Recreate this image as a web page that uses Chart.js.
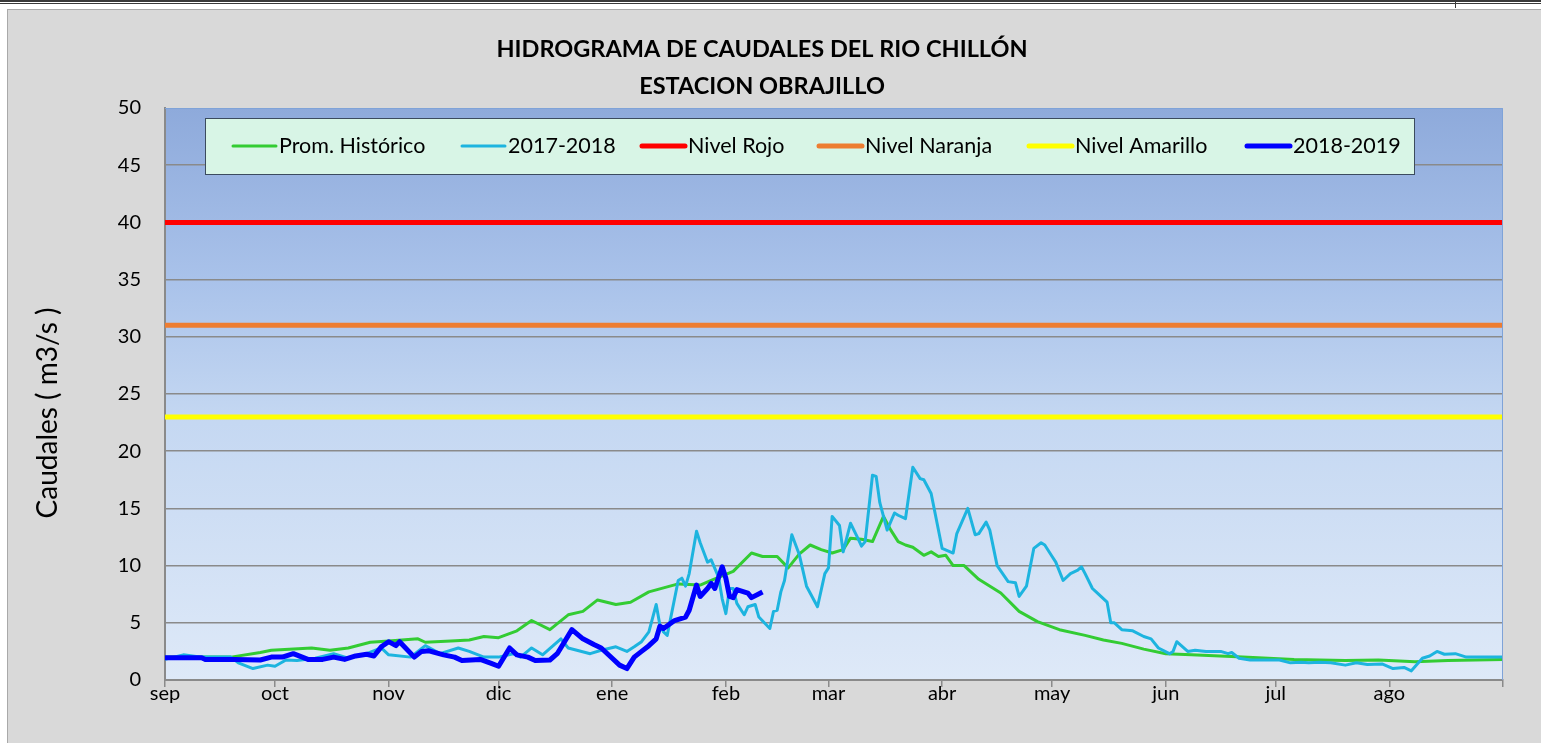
<!DOCTYPE html>
<html>
<head>
<meta charset="utf-8">
<script src="https://cdn.jsdelivr.net/npm/chart.js@4.4.1/dist/chart.umd.min.js"></script>
<style>
  html, body { margin: 0; padding: 0; background: #fff; width: 1541px; height: 743px; overflow: hidden; }
  #topline { position: absolute; left: 0; top: 0; width: 1541px; height: 1px; border-top: 2px solid #3a3a3a; border-bottom: 1px solid #3a3a3a; }
  #mark { position: absolute; left: 1455px; top: 0; width: 1px; height: 8px; background: #3a3a3a; }
  #frame { position: absolute; left: 7px; top: 9px; width: 1560px; height: 760px; background: #d9d9d9; border: 1px solid #a9a9a9; }
  #chart { position: absolute; left: 0; top: 0; }
</style>
</head>
<body>
<div id="topline"></div>
<div id="mark"></div>
<div id="frame"></div>
<canvas id="chart" width="1541" height="743"></canvas>
<script>
// Hydrological year, day 0 = 1 sep. Values in m3/s.
const monthLabels = ['sep', 'oct', 'nov', 'dic', 'ene', 'feb', 'mar', 'abr', 'may', 'jun', 'jul', 'ago'];
const monthStartDays = [0, 30, 61, 91, 122, 153, 181, 212, 242, 273, 303, 334, 365];

const seriesNames = ['Prom. Histórico', '2017-2018', 'Nivel Rojo', 'Nivel Naranja', 'Nivel Amarillo', '2018-2019'];

// [day, caudal]
const promHistorico = [
  [0, 2.0], [18, 2.0], [26, 2.4], [29, 2.6], [40, 2.8], [45, 2.6], [50, 2.8], [56, 3.3], [61, 3.4], [69, 3.6],
  [71, 3.3], [78, 3.4], [83, 3.5], [87, 3.8], [91, 3.7], [96, 4.3], [100, 5.2], [105, 4.4], [110, 5.7], [114, 6.0],
  [118, 7.0], [123, 6.6], [127, 6.8], [132, 7.7], [140, 8.4], [146, 8.3], [149, 8.7], [155, 9.5], [160, 11.1], [163, 10.8],
  [167, 10.8], [170, 9.8], [173, 11.0], [176, 11.8], [179, 11.4], [182, 11.1], [185, 11.4], [187, 12.4], [190, 12.3], [193, 12.1],
  [196, 14.3], [198, 13.1], [200, 12.1], [202, 11.8], [204, 11.6], [207, 10.9], [209, 11.2], [211, 10.8], [213, 10.9], [215, 10.0],
  [218, 10.0], [222, 8.8], [228, 7.6], [233, 6.0], [238, 5.1], [244, 4.4], [251, 3.9], [256, 3.5], [261, 3.2], [267, 2.7],
  [273, 2.3], [280, 2.2], [294, 2.0], [308, 1.8], [322, 1.7], [331, 1.75], [341, 1.6], [350, 1.7], [365, 1.8]
];

const caudal2017 = [
  [0, 1.8], [5, 2.2], [10, 2.0], [14, 2.0], [18, 2.0], [20, 1.5], [24, 1.0], [28, 1.3], [30, 1.2], [33, 1.75],
  [36, 1.7], [41, 1.9], [46, 2.3], [50, 1.9], [55, 2.3], [59, 2.8], [61, 2.2], [67, 2.0], [71, 3.0], [75, 2.3],
  [80, 2.8], [83, 2.5], [87, 2.0], [91, 2.0], [95, 2.3], [97, 2.0], [100, 2.8], [103, 2.2], [108, 3.6], [110, 2.8],
  [116, 2.3], [119, 2.6], [123, 2.9], [126, 2.5], [128, 2.9], [130, 3.35], [132, 4.2], [134, 6.6], [135, 4.8], [136, 4.2],
  [137, 3.9], [140, 8.7], [141, 8.9], [142, 8.2], [143, 9.3], [145, 13.0], [146, 12.0], [148, 10.3], [149, 10.5], [151, 9.0],
  [152, 7.1], [153, 5.8], [154, 8.0], [155, 8.0], [156, 6.7], [158, 5.7], [159, 6.4], [161, 6.6], [162, 5.5], [165, 4.5],
  [166, 6.0], [167, 6.1], [168, 7.7], [169, 8.7], [171, 12.7], [173, 11.0], [175, 8.2], [178, 6.4], [180, 9.3], [181, 9.8],
  [182, 14.3], [184, 13.5], [185, 11.2], [187, 13.7], [189, 12.4], [190, 11.7], [191, 12.1], [193, 17.9], [194, 17.8], [195, 15.5],
  [197, 13.1], [199, 14.6], [200, 14.4], [202, 14.1], [204, 18.6], [206, 17.6], [207, 17.5], [209, 16.3], [212, 11.5], [215, 11.1],
  [216, 12.8], [219, 15.0], [221, 12.7], [222, 12.8], [224, 13.8], [225, 13.1], [227, 10.0], [230, 8.6], [232, 8.5], [233, 7.3],
  [235, 8.2], [237, 11.5], [239, 12.0], [240, 11.8], [242, 10.8], [243, 10.3], [245, 8.7], [247, 9.3], [249, 9.6], [250, 9.9],
  [251, 9.3], [253, 8.0], [254, 7.7], [257, 6.8], [258, 5.0], [259, 5.0], [261, 4.4], [264, 4.3], [267, 3.8], [269, 3.6],
  [271, 2.8], [274, 2.3], [275, 2.5], [276, 3.35], [279, 2.5], [281, 2.6], [284, 2.5], [288, 2.5], [290, 2.3], [291, 2.4],
  [293, 1.9], [296, 1.75], [304, 1.75], [307, 1.5], [310, 1.55], [312, 1.5], [315, 1.55], [318, 1.5], [322, 1.3], [325, 1.5],
  [328, 1.35], [332, 1.4], [335, 1.0], [338, 1.1], [340, 0.8], [343, 1.9], [345, 2.1], [347, 2.5], [349, 2.25], [352, 2.3],
  [355, 2.0], [365, 2.0]
];

const caudal2018 = [
  [0, 1.95], [10, 1.95], [11, 1.8], [19, 1.8], [26, 1.75], [29, 2.0], [32, 2.0], [35, 2.3], [39, 1.8], [43, 1.8],
  [46, 2.0], [49, 1.8], [52, 2.1], [55, 2.25], [57, 2.1], [59, 2.9], [61, 3.35], [63, 3.0], [64, 3.35], [68, 2.0],
  [70, 2.5], [72, 2.55], [76, 2.2], [79, 2.0], [81, 1.7], [86, 1.8], [89, 1.45], [91, 1.2], [94, 2.8], [96, 2.2],
  [99, 2.0], [101, 1.7], [105, 1.75], [107, 2.3], [111, 4.4], [114, 3.6], [117, 3.1], [119, 2.8], [122, 1.9], [124, 1.3],
  [126, 1.0], [128, 2.0], [130, 2.5], [132, 3.0], [134, 3.6], [135, 4.7], [136, 4.5], [139, 5.2], [142, 5.5], [143, 6.1],
  [145, 8.3], [146, 7.3], [148, 8.0], [149, 8.45], [150, 8.0], [152, 9.9], [153, 8.9], [154, 7.3], [155, 7.2], [156, 7.9],
  [159, 7.6], [160, 7.2], [163, 7.7]
];

// alert levels: rojo, naranja, amarillo
const alertLevels = [40, 31, 23];

const seriesColors = ['#33cc33', '#1db4df', '#ff0000', '#ed7d31', '#ffff00', '#0000ff'];
const seriesWidths = [3, 3, 5, 5, 5, 5];

const toPoints = arr => arr.map(p => ({ x: p[0], y: p[1] }));
const levelLine = v => [{ x: 0, y: v }, { x: 365, y: v }];

const FONT = 'Lato, "Open Sans", sans-serif';

// background gradient, title, axis title, boxed legend
const decor = {
  id: 'decor',
  beforeDraw(chart) {
    const { ctx, chartArea: a } = chart;
    const g = ctx.createLinearGradient(0, a.top, 0, a.bottom);
    g.addColorStop(0, '#8eaadb');
    g.addColorStop(0.3, '#a9c2ea');
    g.addColorStop(0.55, '#c5d8f2');
    g.addColorStop(1, '#dee9f8');
    ctx.save();
    ctx.fillStyle = g;
    ctx.fillRect(a.left, a.top, a.right - a.left, a.bottom - a.top);
    ctx.restore();
  },
  afterDraw(chart) {
    const { ctx, chartArea: a } = chart;
    ctx.save();
    // top / right frame of the plot
    ctx.strokeStyle = '#7fa3d8';
    ctx.lineWidth = 1;
    ctx.beginPath();
    ctx.moveTo(a.left, a.top + 0.5);
    ctx.lineTo(a.right - 0.5, a.top + 0.5);
    ctx.lineTo(a.right - 0.5, a.bottom);
    ctx.stroke();

    // title
    ctx.fillStyle = '#000';
    ctx.textAlign = 'center';
    ctx.textBaseline = 'middle';
    ctx.font = 'bold 23.5px ' + FONT;
    ctx.fillText('HIDROGRAMA DE CAUDALES DEL RIO CHILLÓN', 762, 49);
    ctx.fillText('ESTACION OBRAJILLO', 762, 86);

    // y axis title
    ctx.save();
    ctx.translate(48, 413);
    ctx.rotate(-Math.PI / 2);
    ctx.font = '28px ' + FONT;
    ctx.fillText('Caudales ( m3/s )', 0, 0);
    ctx.restore();

    // legend box
    ctx.fillStyle = '#d8f5e6';
    ctx.fillRect(205, 118, 1210, 56);
    ctx.strokeStyle = '#3b4b5e';
    ctx.strokeRect(205.5, 118.5, 1209, 56);
    const itemX = [231, 460, 640, 817, 1027, 1245];
    ctx.font = '21.5px ' + FONT;
    ctx.textAlign = 'left';
    ctx.lineCap = 'round';
    seriesNames.forEach((name, i) => {
      ctx.strokeStyle = seriesColors[i];
      ctx.lineWidth = seriesWidths[i];
      ctx.beginPath();
      ctx.moveTo(itemX[i] + 2, 146);
      ctx.lineTo(itemX[i] + 45, 146);
      ctx.stroke();
      ctx.fillStyle = '#000';
      ctx.fillText(name, itemX[i] + 48, 146);
    });
    ctx.restore();
  }
};

const datasets = [
  { label: seriesNames[0], data: toPoints(promHistorico), order: 5 },
  { label: seriesNames[1], data: toPoints(caudal2017), order: 4 },
  { label: seriesNames[2], data: levelLine(alertLevels[0]), order: 3 },
  { label: seriesNames[3], data: levelLine(alertLevels[1]), order: 2 },
  { label: seriesNames[4], data: levelLine(alertLevels[2]), order: 1 },
  { label: seriesNames[5], data: toPoints(caudal2018), order: 0 }
].map((d, i) => Object.assign(d, {
  borderColor: seriesColors[i],
  borderWidth: seriesWidths[i],
  pointRadius: 0,
  tension: 0,
  fill: false,
  borderJoinStyle: 'round',
  borderCapStyle: 'butt'
}));

const gridGray = '#8a8a8a';

new Chart(document.getElementById('chart'), {
  type: 'line',
  data: { datasets },
  plugins: [decor],
  options: {
    responsive: false,
    animation: false,
    devicePixelRatio: 1,
    layout: { padding: { left: 0, top: 108, right: 38, bottom: 0 } },
    plugins: { legend: { display: false }, title: { display: false }, tooltip: { enabled: false } },
    scales: {
      x: {
        type: 'linear',
        min: 0,
        max: 365,
        afterBuildTicks: s => { s.ticks = monthStartDays.map(v => ({ value: v })); },
        afterFit: s => { s.height = 63; },
        grid: { drawOnChartArea: false, drawTicks: true, tickLength: 7, color: gridGray, lineWidth: 1.5 },
        border: { color: gridGray, width: 2 },
        ticks: {
          autoSkip: false,
          maxRotation: 0,
          padding: -5,
          color: '#000',
          font: { family: FONT, size: 20 },
          callback: v => monthLabels[monthStartDays.indexOf(v)] || ''
        }
      },
      y: {
        min: 0,
        max: 50,
        afterFit: s => { s.width = 165; },
        grid: {
          drawTicks: false,
          lineWidth: 1.5,
          color: c => (c.tick && c.tick.value === 50 ? 'rgba(0,0,0,0)' : gridGray)
        },
        border: { color: gridGray, width: 2 },
        ticks: { stepSize: 5, padding: 24, color: '#000', font: { family: FONT, size: 20 } }
      }
    }
  }
});
</script>
</body>
</html>
